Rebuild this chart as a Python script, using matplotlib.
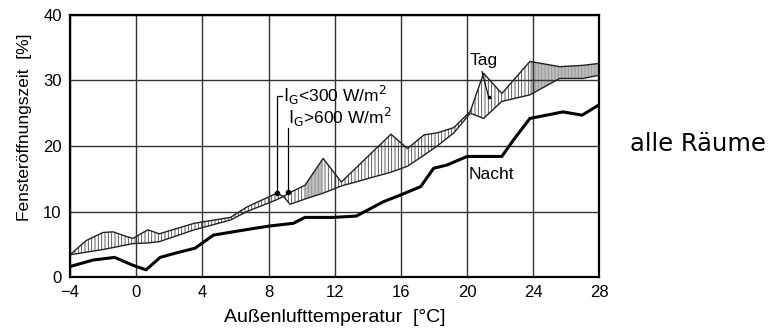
import matplotlib.pyplot as plt
import numpy as np

plt.rcParams['font.family'] = ['Liberation Sans', 'DejaVu Sans']

# Nacht: thick line
nacht_t = [-4, -2.6, -1.3, -0.2, 0.6, 1.45, 2.45, 3.56, 4.67, 5.86, 7.07, 8.1, 9.5, 10.2,
           11.9, 13.3, 14.95, 15.96, 17.2, 17.98, 18.8, 20.0, 22.1, 22.8, 23.8, 25.8, 26.95, 28.0]
nacht = [1.6, 2.6, 3.0, 1.8, 1.1, 3.0, 3.7, 4.4, 6.4, 6.9, 7.4, 7.8, 8.2, 9.1,
         9.1, 9.3, 11.5, 12.5, 13.8, 16.6, 17.1, 18.4, 18.4, 20.9, 24.2, 25.2, 24.7, 26.3]

# Tag: two curves for global radiation classes
tag_t = [-4, -3, -2, -1.4, -0.6, -0.2, 0.7, 1.4, 3.5, 5.7, 6.7, 8.5, 8.9, 9.3, 10.2, 11.3,
         12.4, 15.4, 16.4, 17.4, 18.2, 19.2, 20.2, 21.0, 22.1, 23.8, 25.6, 27.0, 28.0]
tag_ig300 = [3.4, 5.6, 6.8, 6.9, 6.2, 5.9, 7.2, 6.6, 8.2, 9.1, 10.7, 12.8, 12.3, 11.1, 11.9, 12.8,
             13.9, 16.0, 16.9, 18.6, 20.0, 22.0, 25.0, 24.2, 26.8, 27.8, 30.3, 30.3, 30.8]
tag_ig600 = [3.4, 3.8, 4.2, 4.5, 4.9, 5.1, 5.2, 5.4, 7.2, 8.7, 10.0, 11.8, 12.3, 12.9, 14.0, 18.1,
             14.5, 21.8, 19.6, 21.7, 22.0, 22.8, 25.3, 31.1, 28.0, 32.9, 32.1, 32.3, 32.6]

x_ticks = [-4, 0, 4, 8, 12, 16, 20, 24, 28]
y_ticks = [0, 10, 20, 30, 40]

fig = plt.figure(figsize=(7.82, 3.31), dpi=100)
ax = fig.add_axes([0.0895, 0.163, 0.677, 0.792])

t = np.array(tag_t)
a = np.array(tag_ig300)
b = np.array(tag_ig600)
lo = np.minimum(a, b)
hi = np.maximum(a, b)

plt.rcParams['hatch.linewidth'] = 0.6
ax.fill_between(t, lo, hi, facecolor='white', edgecolor='#444444', hatch='|||||', lw=0)
dense = ((t >= 10.2) & (t <= 12.0)) | (t >= 23.8)
ax.fill_between(t, lo, hi, where=dense, facecolor='#aaaaaa', edgecolor='none', alpha=0.8)
ax.plot(t, a, color='#222222', lw=1.0)
ax.plot(t, b, color='#222222', lw=1.0)
ax.plot(nacht_t, nacht, color='black', lw=2.2, solid_joinstyle='round')

# markers where the legend pointers meet the curves
ax.plot([8.5, 9.2], [12.8, 13.0], 'o', color='black', ms=3)

ax.set_xlim(-4, 28)
ax.set_ylim(0, 40)
ax.set_xticks(x_ticks)
ax.set_xticklabels(['\u22124' if v < 0 else str(v) for v in x_ticks])
ax.set_yticks(y_ticks)
ax.grid(True, color='#333333', lw=1.0)
ax.tick_params(length=0, labelsize=12, pad=6)
for s in ax.spines.values():
    s.set_linewidth(1.6)

ax.set_xlabel('Außenlufttemperatur  [°C]', fontsize=14, labelpad=6)
ax.set_ylabel('Fensteröffnungszeit  [%]', fontsize=12.5)
ax.yaxis.set_label_coords(-0.072, 0.573)

# pointer labels
ax.plot([8.5, 8.5, 8.8], [12.8, 27.7, 27.7], color='black', lw=0.9)
ax.text(8.85, 27.7, r'$\mathrm{I_G}$<300 W/m$^2$', fontsize=12.5, va='center')
ax.plot([9.2, 9.2], [13.0, 22.8], color='black', lw=0.9)
ax.text(9.15, 24.4, r'$\mathrm{I_G}$>600 W/m$^2$', fontsize=12.5, va='center')

ax.text(21.0, 33.1, 'Tag', fontsize=12.5, ha='center', va='center')
ax.plot([20.9, 21.3], [31.4, 27.5], color='black', lw=0.8)
ax.plot([21.3], [27.5], 's', color='black', ms=2)
ax.text(20.1, 15.7, 'Nacht', fontsize=12.5, ha='left', va='center')

fig.text(0.806, 0.565, 'alle Räume', fontsize=17.5, ha='left', va='center',
         family=['DejaVu Sans'])

fig.savefig('out.png', dpi=100)
